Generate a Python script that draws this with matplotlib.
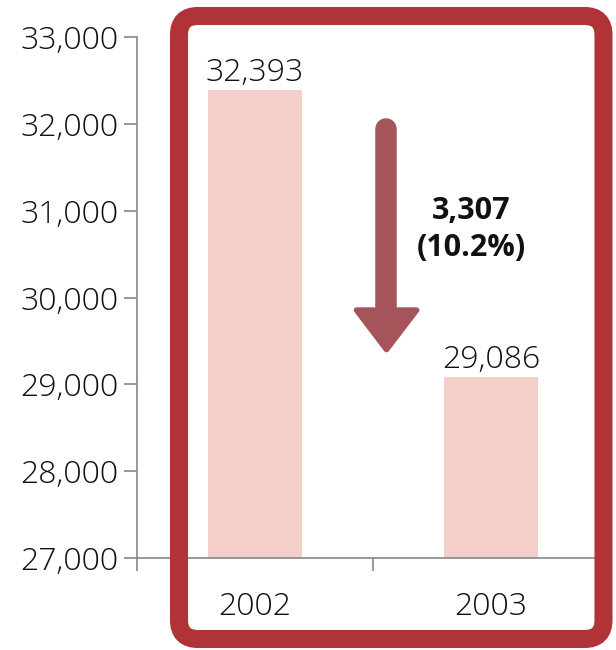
import matplotlib
matplotlib.use("Agg")
import matplotlib.pyplot as plt
from matplotlib.patches import FancyBboxPatch, Polygon

years = ["2002", "2003"]
values = [32393, 29086]
y_ticks = [27000, 28000, 29000, 30000, 31000, 32000, 33000]
change_label = "3,307\n(10.2%)"

plt.rcParams['font.family'] = ['Open Sans', 'DejaVu Sans']

DPI = 100
fig = plt.figure(figsize=(6.16, 6.5), dpi=DPI)
ax = fig.add_axes([137/616, 92/650, 472/616, 521/650])

bar_color = "#f4cfca"
text_color = "#111111"
x = list(range(len(years)))
ax.bar(x, values, width=0.4, color=bar_color, zorder=2)
for xi, v in zip(x, values):
    ax.text(xi, v + 100, f"{v:,}", ha="center", va="baseline", fontsize=23,
            color=text_color, fontweight="light")

ax.set_xlim(-0.5, 1.5)
ax.set_ylim(27000, 33000)
ax.set_yticks(y_ticks)
ax.set_yticklabels([f"{t:,}" for t in y_ticks], fontsize=23, color=text_color,
                   fontweight="light")
ax.set_xticks(x)
ax.set_xticklabels(years, fontsize=23, color=text_color, fontweight="light")
ax.set_xticks([-0.5, 0.5, 1.5], minor=True)
ax.tick_params(axis="x", which="major", length=0, pad=23.5)
ax.tick_params(axis="x", which="minor", length=9.5, width=1.2, color="#888888",
               direction="out")
ax.tick_params(axis="y", length=9.5, width=1.2, color="#888888", pad=4)
for s in ["top", "right"]:
    ax.spines[s].set_visible(False)
for s in ["left", "bottom"]:
    ax.spines[s].set_color("#888888")
    ax.spines[s].set_linewidth(1.2)

# change arrow
arrow_color = "#a5545a"
ax_x = 0.557
ax.plot([ax_x, ax_x], [31945, 29900], color=arrow_color, lw=15.5,
        solid_capstyle="round", zorder=3)
head = Polygon([[0.43, 29855], [0.685, 29855], [ax_x, 29400]], closed=True,
               facecolor=arrow_color, edgecolor=arrow_color, lw=4,
               joinstyle="round", zorder=3)
ax.add_patch(head)
ax.text(0.915, 30780, change_label, ha="center", va="center",
        fontsize=22, fontweight="bold", color="#111111", linespacing=1.3)

# highlight border (pixel-based, via inches)
border = FancyBboxPatch((1.79, 0.11), 6.035 - 1.79, 6.23,
                        boxstyle="round,pad=0,rounding_size=0.19",
                        transform=fig.dpi_scale_trans, fill=False,
                        edgecolor="#b03437", linewidth=13, zorder=5)
fig.patches.append(border)

fig.savefig("out.png", dpi=DPI)
